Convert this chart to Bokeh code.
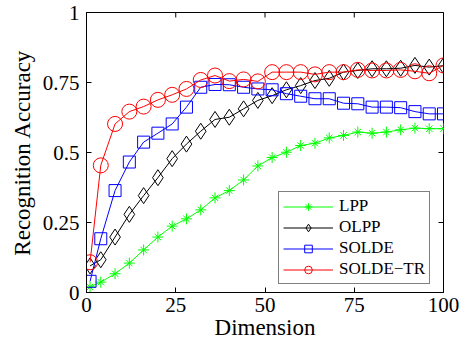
import math
from bokeh.plotting import figure
from bokeh.models import FixedTicker, CustomJSTickFormatter, Range1d, Legend, ColumnDataSource
from bokeh.embed import file_html
from bokeh.resources import INLINE

dims = [1] + list(range(4, 101, 4))

lpp = [0.02, 0.037, 0.067, 0.105, 0.152, 0.198, 0.237, 0.263, 0.295, 0.338, 0.364, 0.402, 0.452,
       0.482, 0.501, 0.525, 0.533, 0.552, 0.561, 0.573, 0.569, 0.573, 0.581, 0.587, 0.585, 0.585]
olpp = [0.095, 0.117, 0.198, 0.279, 0.346, 0.41, 0.478, 0.53, 0.576, 0.618, 0.626, 0.656, 0.686,
        0.703, 0.724, 0.739, 0.757, 0.765, 0.787, 0.793, 0.799, 0.799, 0.801, 0.811, 0.805, 0.81]
solde = [0.04, 0.192, 0.364, 0.466, 0.537, 0.569, 0.602, 0.662, 0.733, 0.743, 0.742, 0.733, 0.727,
         0.724, 0.71, 0.701, 0.692, 0.692, 0.676, 0.674, 0.662, 0.662, 0.66, 0.646, 0.638, 0.638]
solde_tr = [0.108, 0.454, 0.602, 0.646, 0.664, 0.688, 0.706, 0.727, 0.759, 0.775, 0.755, 0.761, 0.754,
            0.787, 0.787, 0.787, 0.779, 0.787, 0.787, 0.795, 0.793, 0.793, 0.795, 0.79, 0.783, 0.811]

x_ticks = [0, 25, 50, 75, 100]
y_ticks = [0, 0.25, 0.5, 0.75, 1]
x_max = 100
y_max = 1

FONT = "Liberation Serif"

p = figure(width=468, height=346, output_backend="svg", toolbar_location=None,
           x_range=Range1d(0, x_max), y_range=Range1d(0, y_max),
           min_border_left=86, min_border_right=25, min_border_top=12, min_border_bottom=54)
p.xgrid.visible = False
p.ygrid.visible = False
p.outline_line_color = "black"
p.outline_line_width = 1
p.background_fill_color = "white"
p.border_fill_color = "white"

fmt = CustomJSTickFormatter(code="return tick.toString();")

for ax, ticks in ((p.xaxis[0], x_ticks), (p.yaxis[0], y_ticks)):
    ax.ticker = FixedTicker(ticks=ticks)
    ax.axis_line_color = "black"
    ax.major_tick_line_color = "black"
    ax.major_tick_in = 5
    ax.major_tick_out = 0
    ax.minor_tick_line_color = None
    ax.formatter = fmt
    ax.major_label_text_font = FONT
    ax.major_label_text_font_size = "21px"
    ax.major_label_text_color = "black"
    ax.axis_label_text_font = FONT
    ax.axis_label_text_font_size = "23px"
    ax.axis_label_text_font_style = "normal"
    ax.axis_label_text_color = "black"

p.xaxis[0].axis_label = "Dimension"
p.xaxis[0].major_label_standoff = 5
p.xaxis[0].axis_label_standoff = 0
p.yaxis[0].axis_label = "Recognition Accuracy"
p.yaxis[0].major_label_standoff = 7
p.yaxis[0].axis_label_standoff = 5

# inward ticks on the top and right edges of the box (half of each dash is clipped by the frame)
p.scatter([x_max] * len(y_ticks), y_ticks, marker="dash", size=10, line_color="black", line_width=1)
p.scatter(x_ticks, [y_max] * len(x_ticks), marker="dash", angle=math.pi / 2, size=10,
          line_color="black", line_width=1)

src = ColumnDataSource(dict(x=dims, lpp=lpp, olpp=olpp, solde=solde, solde_tr=solde_tr))

r1 = p.line("x", "lpp", source=src, line_color="#00ff00", line_width=1)
r1b = p.scatter("x", "lpp", source=src, marker="cross", size=11, line_color="#00ff00", fill_color=None, line_width=1)
r1c = p.scatter("x", "lpp", source=src, marker="x", size=9, line_color="#00ff00", fill_color=None, line_width=1)
r2 = p.line("x", "olpp", source=src, line_color="black", line_width=1)
r2b = p.scatter("x", "olpp", source=src, marker="diamond", size=16, line_color="black", fill_color=None, line_width=1)
r3 = p.line("x", "solde", source=src, line_color="#0000ff", line_width=1)
r3b = p.scatter("x", "solde", source=src, marker="square", size=12, line_color="#0000ff", fill_color=None, line_width=1)
r4 = p.line("x", "solde_tr", source=src, line_color="#ff0000", line_width=1)
r4b = p.scatter("x", "solde_tr", source=src, marker="circle", size=15, line_color="#ff0000", fill_color=None, line_width=1)

legend = Legend(items=[("LPP", [r1, r1b, r1c]), ("OLPP", [r2, r2b]),
                       ("SOLDE", [r3, r3b]), ("SOLDE\u2212TR", [r4, r4b])],
                location=(192, 8))
legend.label_text_font = FONT
legend.label_text_font_size = "17px"
legend.label_text_color = "black"
legend.border_line_color = "black"
legend.border_line_width = 1
legend.background_fill_alpha = 1
legend.glyph_width = 50
legend.glyph_height = 19
legend.label_height = 19
legend.label_width = 84
legend.label_standoff = 6
legend.spacing = 1
legend.padding = 4
legend.margin = 0
p.add_layout(legend, "center")

open("out.html", "w").write(file_html(p, INLINE))
